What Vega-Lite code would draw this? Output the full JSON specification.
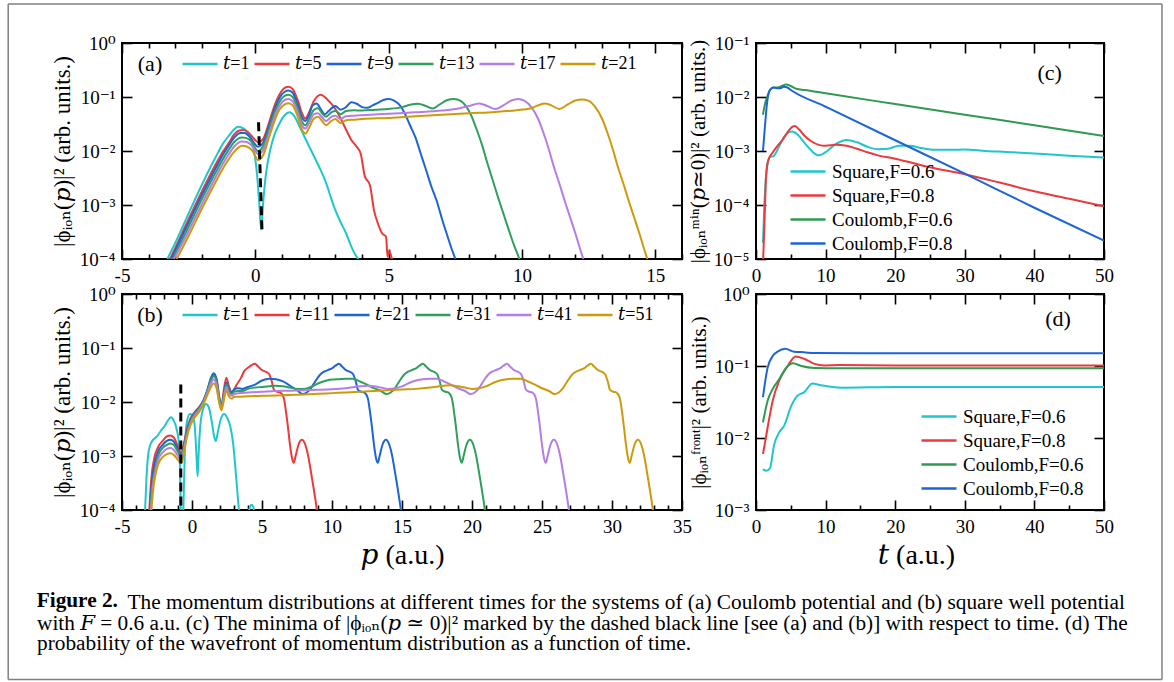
{
"$schema": "https://vega.github.io/schema/vega-lite/v6.json",
"background": "white",
"padding": {"left": 6, "top": 2, "right": 0, "bottom": 0},
"title": {"text": "Figure 2.", "orient": "bottom", "anchor": "start", "fontSize": 21.3, "fontWeight": "bold", "font": "Liberation Serif, DejaVu Serif", "color": "black", "dx": 30, "offset": -130, "baseline": "top"},
"datasets": {
"a": [
{"s":"t=1","p":-3.3,"v":1e-4},{"s":"t=1","p":-3.0,"v":2.0e-4},{"s":"t=1","p":-2.5,"v":7e-4},{"s":"t=1","p":-2.0,"v":2.4e-3},{"s":"t=1","p":-1.5,"v":7.5e-3},{"s":"t=1","p":-1.2,"v":1.4e-2},{"s":"t=1","p":-1.0,"v":1.9e-2},{"s":"t=1","p":-0.8,"v":2.5e-2},{"s":"t=1","p":-0.65,"v":2.8e-2},{"s":"t=1","p":-0.5,"v":2.7e-2},{"s":"t=1","p":-0.3,"v":2.2e-2},{"s":"t=1","p":-0.1,"v":1.3e-2},{"s":"t=1","p":0.0,"v":7e-3},{"s":"t=1","p":0.08,"v":3e-3},{"s":"t=1","p":0.15,"v":1.0e-3},{"s":"t=1","p":0.22,"v":3.5e-4},{"s":"t=1","p":0.3,"v":1.2e-3},{"s":"t=1","p":0.4,"v":3.8e-3},{"s":"t=1","p":0.55,"v":1.0e-2},{"s":"t=1","p":0.7,"v":1.9e-2},{"s":"t=1","p":0.9,"v":3.2e-2},{"s":"t=1","p":1.1,"v":4.6e-2},{"s":"t=1","p":1.28,"v":5.2e-2},{"s":"t=1","p":1.45,"v":4.5e-2},{"s":"t=1","p":1.65,"v":2.9e-2},{"s":"t=1","p":1.9,"v":1.6e-2},{"s":"t=1","p":2.15,"v":9e-3},{"s":"t=1","p":2.4,"v":5e-3},{"s":"t=1","p":2.65,"v":2.6e-3},{"s":"t=1","p":2.85,"v":1.3e-3},{"s":"t=1","p":3.0,"v":8e-4},{"s":"t=1","p":3.2,"v":4.8e-4},{"s":"t=1","p":3.4,"v":3e-4},{"s":"t=1","p":3.6,"v":1.7e-4},{"s":"t=1","p":3.75,"v":1.2e-4},{"s":"t=1","p":3.85,"v":1e-4},{"s":"t=1","p":3.95,"v":8e-5},
{"s":"t=5","p":-3.2,"v":1e-4},{"s":"t=5","p":-3.0,"v":1.6e-4},{"s":"t=5","p":-2.5,"v":5.5e-4},{"s":"t=5","p":-2.0,"v":1.8e-3},{"s":"t=5","p":-1.5,"v":5.5e-3},{"s":"t=5","p":-1.2,"v":1.0e-2},{"s":"t=5","p":-1.0,"v":1.4e-2},{"s":"t=5","p":-0.8,"v":2.0e-2},{"s":"t=5","p":-0.6,"v":2.4e-2},{"s":"t=5","p":-0.45,"v":2.45e-2},{"s":"t=5","p":-0.3,"v":2.3e-2},{"s":"t=5","p":-0.1,"v":1.8e-2},{"s":"t=5","p":0.1,"v":1.45e-2},{"s":"t=5","p":0.3,"v":1.7e-2},{"s":"t=5","p":0.5,"v":3.2e-2},{"s":"t=5","p":0.7,"v":6.5e-2},{"s":"t=5","p":0.9,"v":1.1e-1},{"s":"t=5","p":1.1,"v":1.48e-1},{"s":"t=5","p":1.25,"v":1.55e-1},{"s":"t=5","p":1.4,"v":1.4e-1},{"s":"t=5","p":1.6,"v":8.5e-2},{"s":"t=5","p":1.75,"v":5.0e-2},{"s":"t=5","p":1.88,"v":4.0e-2},{"s":"t=5","p":2.0,"v":5.0e-2},{"s":"t=5","p":2.2,"v":8.5e-2},{"s":"t=5","p":2.45,"v":1.1e-1},{"s":"t=5","p":2.7,"v":9.0e-2},{"s":"t=5","p":3.0,"v":6.0e-2},{"s":"t=5","p":3.2,"v":4.0e-2},{"s":"t=5","p":3.4,"v":2.5e-2},{"s":"t=5","p":3.6,"v":1.6e-2},{"s":"t=5","p":3.8,"v":1.2e-2},{"s":"t=5","p":3.95,"v":9.0e-3},{"s":"t=5","p":4.1,"v":3.5e-3},{"s":"t=5","p":4.3,"v":2.3e-3},{"s":"t=5","p":4.45,"v":8.0e-4},{"s":"t=5","p":4.6,"v":4.5e-4},{"s":"t=5","p":4.75,"v":3.0e-4},{"s":"t=5","p":4.9,"v":2.6e-4},{"s":"t=5","p":4.96,"v":1.1e-4},{"s":"t=5","p":5.02,"v":1.4e-4},{"s":"t=5","p":5.12,"v":1e-4},{"s":"t=5","p":5.2,"v":6e-5},
{"s":"t=9","p":-3.15,"v":1e-4},{"s":"t=9","p":-3.0,"v":1.45e-4},{"s":"t=9","p":-2.5,"v":4.8e-4},{"s":"t=9","p":-2.0,"v":1.55e-3},{"s":"t=9","p":-1.5,"v":4.7e-3},{"s":"t=9","p":-1.2,"v":8.8e-3},{"s":"t=9","p":-1.0,"v":1.25e-2},{"s":"t=9","p":-0.8,"v":1.75e-2},{"s":"t=9","p":-0.55,"v":2.15e-2},{"s":"t=9","p":-0.4,"v":2.15e-2},{"s":"t=9","p":-0.2,"v":1.8e-2},{"s":"t=9","p":0.1,"v":1.2e-2},{"s":"t=9","p":0.3,"v":1.45e-2},{"s":"t=9","p":0.5,"v":2.8e-2},{"s":"t=9","p":0.7,"v":5.6e-2},{"s":"t=9","p":0.9,"v":9.5e-2},{"s":"t=9","p":1.1,"v":1.25e-1},{"s":"t=9","p":1.25,"v":1.32e-1},{"s":"t=9","p":1.4,"v":1.2e-1},{"s":"t=9","p":1.6,"v":7.0e-2},{"s":"t=9","p":1.75,"v":4.2e-2},{"s":"t=9","p":1.87,"v":3.6e-2},{"s":"t=9","p":2.0,"v":4.5e-2},{"s":"t=9","p":2.15,"v":7.0e-2},{"s":"t=9","p":2.3,"v":7.6e-2},{"s":"t=9","p":2.45,"v":6.0e-2},{"s":"t=9","p":2.6,"v":4.8e-2},{"s":"t=9","p":2.75,"v":5.5e-2},{"s":"t=9","p":3.0,"v":6.8e-2},{"s":"t=9","p":3.2,"v":5.8e-2},{"s":"t=9","p":3.4,"v":6.5e-2},{"s":"t=9","p":3.6,"v":8.0e-2},{"s":"t=9","p":3.8,"v":7.5e-2},{"s":"t=9","p":4.0,"v":6.5e-2},{"s":"t=9","p":4.2,"v":6.3e-2},{"s":"t=9","p":4.4,"v":7.0e-2},{"s":"t=9","p":4.6,"v":7.8e-2},{"s":"t=9","p":4.8,"v":8.8e-2},{"s":"t=9","p":5.0,"v":9.2e-2},{"s":"t=9","p":5.2,"v":8.6e-2},{"s":"t=9","p":5.4,"v":7.2e-2},{"s":"t=9","p":5.6,"v":5.0e-2},{"s":"t=9","p":5.8,"v":3.0e-2},{"s":"t=9","p":6.0,"v":1.8e-2},{"s":"t=9","p":6.2,"v":9e-3},{"s":"t=9","p":6.4,"v":4.5e-3},{"s":"t=9","p":6.6,"v":2.2e-3},{"s":"t=9","p":6.8,"v":1.2e-3},{"s":"t=9","p":7.0,"v":5.5e-4},{"s":"t=9","p":7.2,"v":2.7e-4},{"s":"t=9","p":7.35,"v":1.6e-4},{"s":"t=9","p":7.5,"v":1e-4},{"s":"t=9","p":7.6,"v":7e-5},
{"s":"t=13","p":-3.1,"v":1e-4},{"s":"t=13","p":-3.0,"v":1.25e-4},{"s":"t=13","p":-2.5,"v":4.0e-4},{"s":"t=13","p":-2.0,"v":1.3e-3},{"s":"t=13","p":-1.5,"v":3.9e-3},{"s":"t=13","p":-1.2,"v":7.3e-3},{"s":"t=13","p":-1.0,"v":1.05e-2},{"s":"t=13","p":-0.8,"v":1.45e-2},{"s":"t=13","p":-0.5,"v":1.78e-2},{"s":"t=13","p":-0.35,"v":1.75e-2},{"s":"t=13","p":-0.15,"v":1.5e-2},{"s":"t=13","p":0.1,"v":1.0e-2},{"s":"t=13","p":0.3,"v":1.25e-2},{"s":"t=13","p":0.5,"v":2.4e-2},{"s":"t=13","p":0.7,"v":4.8e-2},{"s":"t=13","p":0.9,"v":8.0e-2},{"s":"t=13","p":1.1,"v":1.05e-1},{"s":"t=13","p":1.25,"v":1.1e-1},{"s":"t=13","p":1.4,"v":1.0e-1},{"s":"t=13","p":1.6,"v":6.0e-2},{"s":"t=13","p":1.75,"v":3.5e-2},{"s":"t=13","p":1.88,"v":3.0e-2},{"s":"t=13","p":2.0,"v":3.8e-2},{"s":"t=13","p":2.2,"v":5.8e-2},{"s":"t=13","p":2.35,"v":6.2e-2},{"s":"t=13","p":2.5,"v":5.0e-2},{"s":"t=13","p":2.65,"v":4.3e-2},{"s":"t=13","p":2.85,"v":5.2e-2},{"s":"t=13","p":3.0,"v":5.5e-2},{"s":"t=13","p":3.2,"v":4.8e-2},{"s":"t=13","p":3.4,"v":5.5e-2},{"s":"t=13","p":3.7,"v":5.7e-2},{"s":"t=13","p":4.0,"v":5.6e-2},{"s":"t=13","p":4.5,"v":5.8e-2},{"s":"t=13","p":5.0,"v":6.0e-2},{"s":"t=13","p":5.5,"v":6.5e-2},{"s":"t=13","p":5.8,"v":7.2e-2},{"s":"t=13","p":6.1,"v":7.5e-2},{"s":"t=13","p":6.4,"v":6.8e-2},{"s":"t=13","p":6.65,"v":6.1e-2},{"s":"t=13","p":6.9,"v":7.2e-2},{"s":"t=13","p":7.2,"v":8.8e-2},{"s":"t=13","p":7.45,"v":9.2e-2},{"s":"t=13","p":7.7,"v":8.5e-2},{"s":"t=13","p":7.9,"v":6.8e-2},{"s":"t=13","p":8.1,"v":4.5e-2},{"s":"t=13","p":8.3,"v":2.5e-2},{"s":"t=13","p":8.5,"v":1.3e-2},{"s":"t=13","p":8.7,"v":6e-3},{"s":"t=13","p":8.9,"v":2.9e-3},{"s":"t=13","p":9.1,"v":1.4e-3},{"s":"t=13","p":9.3,"v":7e-4},{"s":"t=13","p":9.5,"v":3.5e-4},{"s":"t=13","p":9.7,"v":1.8e-4},{"s":"t=13","p":9.9,"v":1e-4},{"s":"t=13","p":10.0,"v":7e-5},
{"s":"t=17","p":-3.05,"v":1e-4},{"s":"t=17","p":-2.5,"v":3.3e-4},{"s":"t=17","p":-2.0,"v":1.05e-3},{"s":"t=17","p":-1.5,"v":3.2e-3},{"s":"t=17","p":-1.2,"v":6.0e-3},{"s":"t=17","p":-1.0,"v":8.6e-3},{"s":"t=17","p":-0.8,"v":1.2e-2},{"s":"t=17","p":-0.5,"v":1.5e-2},{"s":"t=17","p":-0.3,"v":1.45e-2},{"s":"t=17","p":-0.1,"v":1.2e-2},{"s":"t=17","p":0.1,"v":8.8e-3},{"s":"t=17","p":0.3,"v":1.05e-2},{"s":"t=17","p":0.5,"v":2.0e-2},{"s":"t=17","p":0.7,"v":4.0e-2},{"s":"t=17","p":0.9,"v":6.8e-2},{"s":"t=17","p":1.1,"v":8.8e-2},{"s":"t=17","p":1.25,"v":9.2e-2},{"s":"t=17","p":1.4,"v":8.3e-2},{"s":"t=17","p":1.6,"v":5.0e-2},{"s":"t=17","p":1.75,"v":3.0e-2},{"s":"t=17","p":1.88,"v":2.6e-2},{"s":"t=17","p":2.0,"v":3.2e-2},{"s":"t=17","p":2.2,"v":4.8e-2},{"s":"t=17","p":2.35,"v":5.0e-2},{"s":"t=17","p":2.5,"v":4.2e-2},{"s":"t=17","p":2.65,"v":3.6e-2},{"s":"t=17","p":2.85,"v":4.3e-2},{"s":"t=17","p":3.0,"v":4.5e-2},{"s":"t=17","p":3.2,"v":3.9e-2},{"s":"t=17","p":3.4,"v":4.4e-2},{"s":"t=17","p":3.7,"v":4.5e-2},{"s":"t=17","p":4.0,"v":4.6e-2},{"s":"t=17","p":5.0,"v":4.9e-2},{"s":"t=17","p":6.0,"v":5.2e-2},{"s":"t=17","p":7.0,"v":5.6e-2},{"s":"t=17","p":7.5,"v":6.0e-2},{"s":"t=17","p":8.0,"v":6.8e-2},{"s":"t=17","p":8.4,"v":7.6e-2},{"s":"t=17","p":8.7,"v":6.8e-2},{"s":"t=17","p":9.0,"v":6.0e-2},{"s":"t=17","p":9.3,"v":7.0e-2},{"s":"t=17","p":9.6,"v":8.6e-2},{"s":"t=17","p":9.85,"v":9.2e-2},{"s":"t=17","p":10.1,"v":8.5e-2},{"s":"t=17","p":10.35,"v":6.5e-2},{"s":"t=17","p":10.6,"v":4.0e-2},{"s":"t=17","p":10.8,"v":2.2e-2},{"s":"t=17","p":11.0,"v":1.1e-2},{"s":"t=17","p":11.2,"v":5.0e-3},{"s":"t=17","p":11.4,"v":2.5e-3},{"s":"t=17","p":11.6,"v":1.2e-3},{"s":"t=17","p":11.8,"v":6e-4},{"s":"t=17","p":12.0,"v":3e-4},{"s":"t=17","p":12.15,"v":1.7e-4},{"s":"t=17","p":12.3,"v":1e-4},{"s":"t=17","p":12.4,"v":7e-5},
{"s":"t=21","p":-2.95,"v":1e-4},{"s":"t=21","p":-2.5,"v":2.7e-4},{"s":"t=21","p":-2.0,"v":8.6e-4},{"s":"t=21","p":-1.5,"v":2.6e-3},{"s":"t=21","p":-1.2,"v":4.9e-3},{"s":"t=21","p":-1.0,"v":7.0e-3},{"s":"t=21","p":-0.8,"v":9.6e-3},{"s":"t=21","p":-0.5,"v":1.25e-2},{"s":"t=21","p":-0.3,"v":1.2e-2},{"s":"t=21","p":-0.1,"v":1.0e-2},{"s":"t=21","p":0.1,"v":6.8e-3},{"s":"t=21","p":0.3,"v":8.5e-3},{"s":"t=21","p":0.5,"v":1.7e-2},{"s":"t=21","p":0.7,"v":3.4e-2},{"s":"t=21","p":0.9,"v":5.8e-2},{"s":"t=21","p":1.1,"v":7.3e-2},{"s":"t=21","p":1.25,"v":7.7e-2},{"s":"t=21","p":1.4,"v":7.0e-2},{"s":"t=21","p":1.6,"v":4.2e-2},{"s":"t=21","p":1.75,"v":2.5e-2},{"s":"t=21","p":1.88,"v":2.1e-2},{"s":"t=21","p":2.0,"v":2.6e-2},{"s":"t=21","p":2.2,"v":4.0e-2},{"s":"t=21","p":2.35,"v":4.3e-2},{"s":"t=21","p":2.5,"v":3.6e-2},{"s":"t=21","p":2.65,"v":3.0e-2},{"s":"t=21","p":2.85,"v":3.6e-2},{"s":"t=21","p":3.0,"v":3.9e-2},{"s":"t=21","p":3.2,"v":3.3e-2},{"s":"t=21","p":3.4,"v":3.7e-2},{"s":"t=21","p":3.7,"v":3.8e-2},{"s":"t=21","p":4.0,"v":3.9e-2},{"s":"t=21","p":5.0,"v":4.1e-2},{"s":"t=21","p":6.0,"v":4.4e-2},{"s":"t=21","p":7.0,"v":4.7e-2},{"s":"t=21","p":8.0,"v":5.0e-2},{"s":"t=21","p":9.0,"v":5.3e-2},{"s":"t=21","p":9.8,"v":5.7e-2},{"s":"t=21","p":10.3,"v":6.1e-2},{"s":"t=21","p":10.6,"v":7.0e-2},{"s":"t=21","p":10.85,"v":7.6e-2},{"s":"t=21","p":11.1,"v":7.0e-2},{"s":"t=21","p":11.4,"v":6.0e-2},{"s":"t=21","p":11.7,"v":7.2e-2},{"s":"t=21","p":12.0,"v":8.6e-2},{"s":"t=21","p":12.25,"v":9.0e-2},{"s":"t=21","p":12.5,"v":8.5e-2},{"s":"t=21","p":12.75,"v":6.5e-2},{"s":"t=21","p":13.0,"v":4.0e-2},{"s":"t=21","p":13.2,"v":2.2e-2},{"s":"t=21","p":13.4,"v":1.1e-2},{"s":"t=21","p":13.6,"v":5e-3},{"s":"t=21","p":13.8,"v":2.5e-3},{"s":"t=21","p":14.0,"v":1.2e-3},{"s":"t=21","p":14.2,"v":6e-4},{"s":"t=21","p":14.4,"v":3e-4},{"s":"t=21","p":14.55,"v":1.7e-4},{"s":"t=21","p":14.7,"v":1e-4},{"s":"t=21","p":14.8,"v":7e-5}
],
"dashA": [{"p":0.12,"v":0.034},{"p":0.25,"v":0.00033}],
"dashB": [{"p":-0.8,"v":0.021},{"p":-0.8,"v":0.00009}],
"b": [
{"s":"t=1","p":-3.35,"v":1e-4},{"s":"t=1","p":-3.25,"v":4e-4},{"s":"t=1","p":-3.1,"v":1.2e-3},{"s":"t=1","p":-2.9,"v":1.8e-3},{"s":"t=1","p":-2.5,"v":2.3e-3},{"s":"t=1","p":-2.2,"v":3.0e-3},{"s":"t=1","p":-1.95,"v":3.6e-3},{"s":"t=1","p":-1.7,"v":4.6e-3},{"s":"t=1","p":-1.5,"v":5.2e-3},{"s":"t=1","p":-1.3,"v":4.5e-3},{"s":"t=1","p":-1.1,"v":3.2e-3},{"s":"t=1","p":-0.95,"v":1.8e-3},{"s":"t=1","p":-0.85,"v":5e-4},{"s":"t=1","p":-0.8,"v":1e-4},{"s":"t=1","p":-0.72,"v":3e-5},{"s":"t=1","p":-0.62,"v":1e-4},{"s":"t=1","p":-0.5,"v":1.5e-3},{"s":"t=1","p":-0.35,"v":4.5e-3},{"s":"t=1","p":-0.15,"v":6e-3},{"s":"t=1","p":0.05,"v":5.5e-3},{"s":"t=1","p":0.2,"v":3.5e-3},{"s":"t=1","p":0.32,"v":1e-3},{"s":"t=1","p":0.4,"v":4.2e-4},{"s":"t=1","p":0.48,"v":1.2e-3},{"s":"t=1","p":0.6,"v":3.8e-3},{"s":"t=1","p":0.8,"v":7.5e-3},{"s":"t=1","p":1.0,"v":9.2e-3},{"s":"t=1","p":1.2,"v":8e-3},{"s":"t=1","p":1.4,"v":4.5e-3},{"s":"t=1","p":1.6,"v":2.2e-3},{"s":"t=1","p":1.7,"v":1.9e-3},{"s":"t=1","p":1.85,"v":2.8e-3},{"s":"t=1","p":2.05,"v":4.8e-3},{"s":"t=1","p":2.3,"v":6e-3},{"s":"t=1","p":2.5,"v":5.2e-3},{"s":"t=1","p":2.75,"v":3.4e-3},{"s":"t=1","p":2.95,"v":1.6e-3},{"s":"t=1","p":3.1,"v":6e-4},{"s":"t=1","p":3.25,"v":2e-4},{"s":"t=1","p":3.35,"v":1e-4},{"s":"t=1","p":3.45,"v":4e-5},{"s":"t=1","p":3.95,"v":5e-5},{"s":"t=1","p":4.1,"v":1.05e-4},{"s":"t=1","p":4.25,"v":1.25e-4},{"s":"t=1","p":4.4,"v":1.1e-4},{"s":"t=1","p":4.5,"v":5e-5},
{"s":"t=11","p":-3.05,"v":1e-4},{"s":"t=11","p":-2.9,"v":4e-4},{"s":"t=11","p":-2.7,"v":9e-4},{"s":"t=11","p":-2.4,"v":1.5e-3},{"s":"t=11","p":-2.1,"v":1.9e-3},{"s":"t=11","p":-1.8,"v":2.3e-3},{"s":"t=11","p":-1.55,"v":2.4e-3},{"s":"t=11","p":-1.3,"v":2.2e-3},{"s":"t=11","p":-1.05,"v":1.6e-3},{"s":"t=11","p":-0.85,"v":1.2e-3},{"s":"t=11","p":-0.75,"v":1.15e-3},{"s":"t=11","p":-0.6,"v":1.6e-3},{"s":"t=11","p":-0.4,"v":2.8e-3},{"s":"t=11","p":-0.1,"v":5e-3},{"s":"t=11","p":0.2,"v":6.5e-3},{"s":"t=11","p":0.5,"v":8e-3},{"s":"t=11","p":0.8,"v":1.05e-2},{"s":"t=11","p":1.1,"v":1.6e-2},{"s":"t=11","p":1.35,"v":2.6e-2},{"s":"t=11","p":1.55,"v":3.2e-2},{"s":"t=11","p":1.75,"v":2.6e-2},{"s":"t=11","p":1.95,"v":1.2e-2},{"s":"t=11","p":2.1,"v":8e-3},{"s":"t=11","p":2.25,"v":1.5e-2},{"s":"t=11","p":2.45,"v":2.8e-2},{"s":"t=11","p":2.65,"v":1.9e-2},{"s":"t=11","p":2.85,"v":1.5e-2},{"s":"t=11","p":3.0,"v":1.7e-2},{"s":"t=11","p":3.2,"v":2.1e-2},{"s":"t=11","p":3.5,"v":2.8e-2},{"s":"t=11","p":3.75,"v":3.8e-2},{"s":"t=11","p":4.0,"v":4.3e-2},{"s":"t=11","p":4.25,"v":4.8e-2},{"s":"t=11","p":4.5,"v":5.1e-2},{"s":"t=11","p":4.7,"v":4.6e-2},{"s":"t=11","p":5.0,"v":3.9e-2},{"s":"t=11","p":5.3,"v":3.6e-2},{"s":"t=11","p":5.5,"v":3.3e-2},{"s":"t=11","p":5.7,"v":2.4e-2},{"s":"t=11","p":5.85,"v":1.7e-2},{"s":"t=11","p":6.1,"v":1.55e-2},{"s":"t=11","p":6.3,"v":1.5e-2},{"s":"t=11","p":6.55,"v":1.2e-2},{"s":"t=11","p":6.7,"v":7e-3},{"s":"t=11","p":6.85,"v":3.5e-3},{"s":"t=11","p":7.0,"v":1.6e-3},{"s":"t=11","p":7.15,"v":9e-4},{"s":"t=11","p":7.27,"v":7.5e-4},{"s":"t=11","p":7.4,"v":1.0e-3},{"s":"t=11","p":7.6,"v":1.6e-3},{"s":"t=11","p":7.85,"v":2.0e-3},{"s":"t=11","p":8.1,"v":1.6e-3},{"s":"t=11","p":8.3,"v":1.0e-3},{"s":"t=11","p":8.45,"v":6e-4},{"s":"t=11","p":8.6,"v":3.5e-4},{"s":"t=11","p":8.75,"v":2e-4},{"s":"t=11","p":8.92,"v":1e-4},{"s":"t=11","p":9.05,"v":5e-5},
{"s":"t=21","p":-3.0,"v":1e-4},{"s":"t=21","p":-2.85,"v":3.5e-4},{"s":"t=21","p":-2.65,"v":7.5e-4},{"s":"t=21","p":-2.4,"v":1.25e-3},{"s":"t=21","p":-2.1,"v":1.6e-3},{"s":"t=21","p":-1.8,"v":1.9e-3},{"s":"t=21","p":-1.55,"v":2.0e-3},{"s":"t=21","p":-1.3,"v":1.85e-3},{"s":"t=21","p":-1.05,"v":1.4e-3},{"s":"t=21","p":-0.85,"v":1.1e-3},{"s":"t=21","p":-0.75,"v":1.05e-3},{"s":"t=21","p":-0.6,"v":1.45e-3},{"s":"t=21","p":-0.4,"v":2.6e-3},{"s":"t=21","p":-0.1,"v":4.7e-3},{"s":"t=21","p":0.2,"v":6.3e-3},{"s":"t=21","p":0.5,"v":7.8e-3},{"s":"t=21","p":0.8,"v":1.05e-2},{"s":"t=21","p":1.1,"v":1.7e-2},{"s":"t=21","p":1.35,"v":2.8e-2},{"s":"t=21","p":1.55,"v":3.4e-2},{"s":"t=21","p":1.75,"v":2.7e-2},{"s":"t=21","p":1.95,"v":1.2e-2},{"s":"t=21","p":2.1,"v":8e-3},{"s":"t=21","p":2.25,"v":1.3e-2},{"s":"t=21","p":2.45,"v":2.3e-2},{"s":"t=21","p":2.65,"v":1.7e-2},{"s":"t=21","p":2.85,"v":1.5e-2},{"s":"t=21","p":3.0,"v":1.7e-2},{"s":"t=21","p":3.3,"v":1.8e-2},{"s":"t=21","p":3.6,"v":1.75e-2},{"s":"t=21","p":4.0,"v":1.9e-2},{"s":"t=21","p":4.5,"v":2.1e-2},{"s":"t=21","p":5.0,"v":2.5e-2},{"s":"t=21","p":5.5,"v":2.7e-2},{"s":"t=21","p":6.0,"v":2.65e-2},{"s":"t=21","p":6.5,"v":2.4e-2},{"s":"t=21","p":7.0,"v":2.0e-2},{"s":"t=21","p":7.5,"v":1.65e-2},{"s":"t=21","p":7.9,"v":1.4e-2},{"s":"t=21","p":8.2,"v":1.5e-2},{"s":"t=21","p":8.5,"v":1.8e-2},{"s":"t=21","p":8.8,"v":2.4e-2},{"s":"t=21","p":9.1,"v":3.1e-2},{"s":"t=21","p":9.4,"v":3.6e-2},{"s":"t=21","p":9.7,"v":3.9e-2},{"s":"t=21","p":10.0,"v":4.2e-2},{"s":"t=21","p":10.25,"v":4.7e-2},{"s":"t=21","p":10.5,"v":5.1e-2},{"s":"t=21","p":10.7,"v":4.6e-2},{"s":"t=21","p":11.0,"v":3.9e-2},{"s":"t=21","p":11.3,"v":3.6e-2},{"s":"t=21","p":11.5,"v":3.3e-2},{"s":"t=21","p":11.7,"v":2.4e-2},{"s":"t=21","p":11.85,"v":1.7e-2},{"s":"t=21","p":12.1,"v":1.55e-2},{"s":"t=21","p":12.3,"v":1.5e-2},{"s":"t=21","p":12.55,"v":1.2e-2},{"s":"t=21","p":12.7,"v":7e-3},{"s":"t=21","p":12.85,"v":3.5e-3},{"s":"t=21","p":13.0,"v":1.6e-3},{"s":"t=21","p":13.15,"v":9e-4},{"s":"t=21","p":13.27,"v":7.5e-4},{"s":"t=21","p":13.4,"v":1.0e-3},{"s":"t=21","p":13.6,"v":1.6e-3},{"s":"t=21","p":13.85,"v":2.0e-3},{"s":"t=21","p":14.1,"v":1.6e-3},{"s":"t=21","p":14.3,"v":1.0e-3},{"s":"t=21","p":14.45,"v":6e-4},{"s":"t=21","p":14.6,"v":3.5e-4},{"s":"t=21","p":14.75,"v":2e-4},{"s":"t=21","p":14.92,"v":1e-4},{"s":"t=21","p":15.05,"v":5e-5},
{"s":"t=31","p":-2.97,"v":1e-4},{"s":"t=31","p":-2.82,"v":3e-4},{"s":"t=31","p":-2.6,"v":6.5e-4},{"s":"t=31","p":-2.4,"v":1.05e-3},{"s":"t=31","p":-2.1,"v":1.4e-3},{"s":"t=31","p":-1.8,"v":1.6e-3},{"s":"t=31","p":-1.55,"v":1.7e-3},{"s":"t=31","p":-1.3,"v":1.6e-3},{"s":"t=31","p":-1.05,"v":1.25e-3},{"s":"t=31","p":-0.85,"v":1e-3},{"s":"t=31","p":-0.75,"v":9.5e-4},{"s":"t=31","p":-0.6,"v":1.35e-3},{"s":"t=31","p":-0.4,"v":2.4e-3},{"s":"t=31","p":-0.1,"v":4.4e-3},{"s":"t=31","p":0.2,"v":6e-3},{"s":"t=31","p":0.5,"v":7.5e-3},{"s":"t=31","p":0.8,"v":1.0e-2},{"s":"t=31","p":1.1,"v":1.6e-2},{"s":"t=31","p":1.35,"v":2.5e-2},{"s":"t=31","p":1.55,"v":3.0e-2},{"s":"t=31","p":1.75,"v":2.4e-2},{"s":"t=31","p":1.95,"v":1.1e-2},{"s":"t=31","p":2.1,"v":7.8e-3},{"s":"t=31","p":2.25,"v":1.2e-2},{"s":"t=31","p":2.45,"v":2.1e-2},{"s":"t=31","p":2.65,"v":1.55e-2},{"s":"t=31","p":2.85,"v":1.4e-2},{"s":"t=31","p":3.0,"v":1.55e-2},{"s":"t=31","p":3.3,"v":1.6e-2},{"s":"t=31","p":3.6,"v":1.6e-2},{"s":"t=31","p":4.0,"v":1.75e-2},{"s":"t=31","p":4.5,"v":1.85e-2},{"s":"t=31","p":5.0,"v":1.9e-2},{"s":"t=31","p":5.5,"v":1.95e-2},{"s":"t=31","p":6.0,"v":2.0e-2},{"s":"t=31","p":6.5,"v":1.95e-2},{"s":"t=31","p":7.0,"v":1.85e-2},{"s":"t=31","p":7.5,"v":1.75e-2},{"s":"t=31","p":8.0,"v":1.75e-2},{"s":"t=31","p":8.5,"v":1.9e-2},{"s":"t=31","p":9.0,"v":2.2e-2},{"s":"t=31","p":9.5,"v":2.45e-2},{"s":"t=31","p":10.0,"v":2.6e-2},{"s":"t=31","p":10.5,"v":2.65e-2},{"s":"t=31","p":11.0,"v":2.7e-2},{"s":"t=31","p":11.5,"v":2.7e-2},{"s":"t=31","p":12.0,"v":2.4e-2},{"s":"t=31","p":12.5,"v":2.1e-2},{"s":"t=31","p":13.0,"v":1.8e-2},{"s":"t=31","p":13.5,"v":1.6e-2},{"s":"t=31","p":13.9,"v":1.4e-2},{"s":"t=31","p":14.2,"v":1.5e-2},{"s":"t=31","p":14.5,"v":1.8e-2},{"s":"t=31","p":14.8,"v":2.4e-2},{"s":"t=31","p":15.1,"v":3.1e-2},{"s":"t=31","p":15.4,"v":3.6e-2},{"s":"t=31","p":15.7,"v":3.9e-2},{"s":"t=31","p":16.0,"v":4.2e-2},{"s":"t=31","p":16.25,"v":4.7e-2},{"s":"t=31","p":16.5,"v":5.1e-2},{"s":"t=31","p":16.7,"v":4.6e-2},{"s":"t=31","p":17.0,"v":3.9e-2},{"s":"t=31","p":17.3,"v":3.6e-2},{"s":"t=31","p":17.5,"v":3.3e-2},{"s":"t=31","p":17.7,"v":2.4e-2},{"s":"t=31","p":17.85,"v":1.7e-2},{"s":"t=31","p":18.1,"v":1.55e-2},{"s":"t=31","p":18.3,"v":1.5e-2},{"s":"t=31","p":18.55,"v":1.2e-2},{"s":"t=31","p":18.7,"v":7e-3},{"s":"t=31","p":18.85,"v":3.5e-3},{"s":"t=31","p":19.0,"v":1.6e-3},{"s":"t=31","p":19.15,"v":9e-4},{"s":"t=31","p":19.27,"v":7.5e-4},{"s":"t=31","p":19.4,"v":1.0e-3},{"s":"t=31","p":19.6,"v":1.6e-3},{"s":"t=31","p":19.85,"v":2.0e-3},{"s":"t=31","p":20.1,"v":1.6e-3},{"s":"t=31","p":20.3,"v":1.0e-3},{"s":"t=31","p":20.45,"v":6e-4},{"s":"t=31","p":20.6,"v":3.5e-4},{"s":"t=31","p":20.75,"v":2e-4},{"s":"t=31","p":20.92,"v":1e-4},{"s":"t=31","p":21.05,"v":5e-5},
{"s":"t=41","p":-2.94,"v":1e-4},{"s":"t=41","p":-2.8,"v":2.7e-4},{"s":"t=41","p":-2.6,"v":5.5e-4},{"s":"t=41","p":-2.4,"v":8.8e-4},{"s":"t=41","p":-2.1,"v":1.15e-3},{"s":"t=41","p":-1.8,"v":1.35e-3},{"s":"t=41","p":-1.55,"v":1.4e-3},{"s":"t=41","p":-1.3,"v":1.3e-3},{"s":"t=41","p":-1.05,"v":1.05e-3},{"s":"t=41","p":-0.85,"v":8.8e-4},{"s":"t=41","p":-0.75,"v":8.5e-4},{"s":"t=41","p":-0.6,"v":1.2e-3},{"s":"t=41","p":-0.4,"v":2.2e-3},{"s":"t=41","p":-0.1,"v":4.1e-3},{"s":"t=41","p":0.2,"v":5.6e-3},{"s":"t=41","p":0.5,"v":7e-3},{"s":"t=41","p":0.8,"v":9.5e-3},{"s":"t=41","p":1.1,"v":1.5e-2},{"s":"t=41","p":1.35,"v":2.2e-2},{"s":"t=41","p":1.55,"v":2.6e-2},{"s":"t=41","p":1.75,"v":2.1e-2},{"s":"t=41","p":1.95,"v":1.0e-2},{"s":"t=41","p":2.1,"v":7.5e-3},{"s":"t=41","p":2.25,"v":1.1e-2},{"s":"t=41","p":2.45,"v":1.9e-2},{"s":"t=41","p":2.65,"v":1.4e-2},{"s":"t=41","p":2.85,"v":1.3e-2},{"s":"t=41","p":3.0,"v":1.4e-2},{"s":"t=41","p":3.3,"v":1.45e-2},{"s":"t=41","p":4.0,"v":1.5e-2},{"s":"t=41","p":5.0,"v":1.55e-2},{"s":"t=41","p":6.0,"v":1.6e-2},{"s":"t=41","p":7.0,"v":1.62e-2},{"s":"t=41","p":8.0,"v":1.65e-2},{"s":"t=41","p":9.0,"v":1.68e-2},{"s":"t=41","p":10.0,"v":1.72e-2},{"s":"t=41","p":11.0,"v":1.8e-2},{"s":"t=41","p":12.0,"v":1.95e-2},{"s":"t=41","p":12.5,"v":2.0e-2},{"s":"t=41","p":13.0,"v":1.95e-2},{"s":"t=41","p":13.5,"v":1.85e-2},{"s":"t=41","p":14.0,"v":1.75e-2},{"s":"t=41","p":14.5,"v":1.8e-2},{"s":"t=41","p":15.0,"v":1.95e-2},{"s":"t=41","p":15.5,"v":2.25e-2},{"s":"t=41","p":16.0,"v":2.5e-2},{"s":"t=41","p":16.5,"v":2.65e-2},{"s":"t=41","p":17.0,"v":2.7e-2},{"s":"t=41","p":17.5,"v":2.7e-2},{"s":"t=41","p":18.0,"v":2.4e-2},{"s":"t=41","p":18.5,"v":2.1e-2},{"s":"t=41","p":19.0,"v":1.8e-2},{"s":"t=41","p":19.5,"v":1.6e-2},{"s":"t=41","p":19.9,"v":1.4e-2},{"s":"t=41","p":20.2,"v":1.5e-2},{"s":"t=41","p":20.5,"v":1.8e-2},{"s":"t=41","p":20.8,"v":2.4e-2},{"s":"t=41","p":21.1,"v":3.1e-2},{"s":"t=41","p":21.4,"v":3.6e-2},{"s":"t=41","p":21.7,"v":3.9e-2},{"s":"t=41","p":22.0,"v":4.2e-2},{"s":"t=41","p":22.25,"v":4.7e-2},{"s":"t=41","p":22.5,"v":5.1e-2},{"s":"t=41","p":22.7,"v":4.6e-2},{"s":"t=41","p":23.0,"v":3.9e-2},{"s":"t=41","p":23.3,"v":3.6e-2},{"s":"t=41","p":23.5,"v":3.3e-2},{"s":"t=41","p":23.7,"v":2.4e-2},{"s":"t=41","p":23.85,"v":1.7e-2},{"s":"t=41","p":24.1,"v":1.55e-2},{"s":"t=41","p":24.3,"v":1.5e-2},{"s":"t=41","p":24.55,"v":1.2e-2},{"s":"t=41","p":24.7,"v":7e-3},{"s":"t=41","p":24.85,"v":3.5e-3},{"s":"t=41","p":25.0,"v":1.6e-3},{"s":"t=41","p":25.15,"v":9e-4},{"s":"t=41","p":25.27,"v":7.5e-4},{"s":"t=41","p":25.4,"v":1.0e-3},{"s":"t=41","p":25.6,"v":1.6e-3},{"s":"t=41","p":25.85,"v":2.0e-3},{"s":"t=41","p":26.1,"v":1.6e-3},{"s":"t=41","p":26.3,"v":1.0e-3},{"s":"t=41","p":26.45,"v":6e-4},{"s":"t=41","p":26.6,"v":3.5e-4},{"s":"t=41","p":26.75,"v":2e-4},{"s":"t=41","p":26.92,"v":1e-4},{"s":"t=41","p":27.05,"v":5e-5},
{"s":"t=51","p":-2.9,"v":1e-4},{"s":"t=51","p":-2.77,"v":2.4e-4},{"s":"t=51","p":-2.6,"v":4.6e-4},{"s":"t=51","p":-2.4,"v":7.2e-4},{"s":"t=51","p":-2.1,"v":9.5e-4},{"s":"t=51","p":-1.8,"v":1.08e-3},{"s":"t=51","p":-1.55,"v":1.12e-3},{"s":"t=51","p":-1.3,"v":1.05e-3},{"s":"t=51","p":-1.05,"v":8.8e-4},{"s":"t=51","p":-0.85,"v":7.6e-4},{"s":"t=51","p":-0.75,"v":7.4e-4},{"s":"t=51","p":-0.6,"v":1.05e-3},{"s":"t=51","p":-0.4,"v":2.0e-3},{"s":"t=51","p":-0.1,"v":3.8e-3},{"s":"t=51","p":0.2,"v":5.2e-3},{"s":"t=51","p":0.5,"v":6.5e-3},{"s":"t=51","p":0.8,"v":9e-3},{"s":"t=51","p":1.1,"v":1.35e-2},{"s":"t=51","p":1.35,"v":1.9e-2},{"s":"t=51","p":1.55,"v":2.2e-2},{"s":"t=51","p":1.75,"v":1.8e-2},{"s":"t=51","p":1.95,"v":9.5e-3},{"s":"t=51","p":2.1,"v":7e-3},{"s":"t=51","p":2.25,"v":1.0e-2},{"s":"t=51","p":2.45,"v":1.65e-2},{"s":"t=51","p":2.65,"v":1.25e-2},{"s":"t=51","p":2.85,"v":1.15e-2},{"s":"t=51","p":3.0,"v":1.25e-2},{"s":"t=51","p":3.3,"v":1.25e-2},{"s":"t=51","p":4.0,"v":1.28e-2},{"s":"t=51","p":5.0,"v":1.3e-2},{"s":"t=51","p":6.0,"v":1.32e-2},{"s":"t=51","p":7.0,"v":1.35e-2},{"s":"t=51","p":8.0,"v":1.38e-2},{"s":"t=51","p":9.0,"v":1.42e-2},{"s":"t=51","p":10.0,"v":1.46e-2},{"s":"t=51","p":11.0,"v":1.5e-2},{"s":"t=51","p":12.0,"v":1.55e-2},{"s":"t=51","p":13.0,"v":1.6e-2},{"s":"t=51","p":14.0,"v":1.65e-2},{"s":"t=51","p":15.0,"v":1.7e-2},{"s":"t=51","p":16.0,"v":1.75e-2},{"s":"t=51","p":17.0,"v":1.85e-2},{"s":"t=51","p":18.0,"v":2.0e-2},{"s":"t=51","p":18.5,"v":2.05e-2},{"s":"t=51","p":19.0,"v":1.95e-2},{"s":"t=51","p":19.5,"v":1.85e-2},{"s":"t=51","p":20.0,"v":1.75e-2},{"s":"t=51","p":20.5,"v":1.8e-2},{"s":"t=51","p":21.0,"v":1.95e-2},{"s":"t=51","p":21.5,"v":2.25e-2},{"s":"t=51","p":22.0,"v":2.5e-2},{"s":"t=51","p":22.5,"v":2.65e-2},{"s":"t=51","p":23.0,"v":2.7e-2},{"s":"t=51","p":23.5,"v":2.7e-2},{"s":"t=51","p":24.0,"v":2.4e-2},{"s":"t=51","p":24.5,"v":2.1e-2},{"s":"t=51","p":25.0,"v":1.8e-2},{"s":"t=51","p":25.5,"v":1.6e-2},{"s":"t=51","p":25.9,"v":1.4e-2},{"s":"t=51","p":26.2,"v":1.5e-2},{"s":"t=51","p":26.5,"v":1.8e-2},{"s":"t=51","p":26.8,"v":2.4e-2},{"s":"t=51","p":27.1,"v":3.1e-2},{"s":"t=51","p":27.4,"v":3.6e-2},{"s":"t=51","p":27.7,"v":3.9e-2},{"s":"t=51","p":28.0,"v":4.2e-2},{"s":"t=51","p":28.25,"v":4.7e-2},{"s":"t=51","p":28.5,"v":5.1e-2},{"s":"t=51","p":28.7,"v":4.6e-2},{"s":"t=51","p":29.0,"v":3.9e-2},{"s":"t=51","p":29.3,"v":3.6e-2},{"s":"t=51","p":29.5,"v":3.3e-2},{"s":"t=51","p":29.7,"v":2.4e-2},{"s":"t=51","p":29.85,"v":1.7e-2},{"s":"t=51","p":30.1,"v":1.55e-2},{"s":"t=51","p":30.3,"v":1.5e-2},{"s":"t=51","p":30.55,"v":1.2e-2},{"s":"t=51","p":30.7,"v":7e-3},{"s":"t=51","p":30.85,"v":3.5e-3},{"s":"t=51","p":31.0,"v":1.6e-3},{"s":"t=51","p":31.15,"v":9e-4},{"s":"t=51","p":31.27,"v":7.5e-4},{"s":"t=51","p":31.4,"v":1.0e-3},{"s":"t=51","p":31.6,"v":1.6e-3},{"s":"t=51","p":31.85,"v":2.0e-3},{"s":"t=51","p":32.1,"v":1.6e-3},{"s":"t=51","p":32.3,"v":1.0e-3},{"s":"t=51","p":32.45,"v":6e-4},{"s":"t=51","p":32.6,"v":3.5e-4},{"s":"t=51","p":32.75,"v":2e-4},{"s":"t=51","p":32.92,"v":1e-4},{"s":"t=51","p":33.05,"v":5e-5}
],
"c": [
{"s":"Square,F=0.6","t":1.0,"v":2e-5},{"s":"Square,F=0.6","t":1.2,"v":1e-4},{"s":"Square,F=0.6","t":1.4,"v":3e-4},{"s":"Square,F=0.6","t":1.7,"v":6e-4},{"s":"Square,F=0.6","t":2.0,"v":7.8e-4},{"s":"Square,F=0.6","t":2.5,"v":8e-4},{"s":"Square,F=0.6","t":3.0,"v":1.0e-3},{"s":"Square,F=0.6","t":3.5,"v":1.35e-3},{"s":"Square,F=0.6","t":4.0,"v":1.8e-3},{"s":"Square,F=0.6","t":4.7,"v":2.2e-3},{"s":"Square,F=0.6","t":5.2,"v":2.3e-3},{"s":"Square,F=0.6","t":6.0,"v":2.0e-3},{"s":"Square,F=0.6","t":7.0,"v":1.4e-3},{"s":"Square,F=0.6","t":8.0,"v":1.0e-3},{"s":"Square,F=0.6","t":9.0,"v":8.3e-4},{"s":"Square,F=0.6","t":10,"v":9.5e-4},{"s":"Square,F=0.6","t":11.5,"v":1.35e-3},{"s":"Square,F=0.6","t":13,"v":1.6e-3},{"s":"Square,F=0.6","t":14.5,"v":1.45e-3},{"s":"Square,F=0.6","t":16,"v":1.2e-3},{"s":"Square,F=0.6","t":17.5,"v":1.08e-3},{"s":"Square,F=0.6","t":19,"v":1.1e-3},{"s":"Square,F=0.6","t":20.5,"v":1.25e-3},{"s":"Square,F=0.6","t":22,"v":1.25e-3},{"s":"Square,F=0.6","t":24,"v":1.12e-3},{"s":"Square,F=0.6","t":26,"v":1.05e-3},{"s":"Square,F=0.6","t":28,"v":1.05e-3},{"s":"Square,F=0.6","t":30,"v":1.07e-3},{"s":"Square,F=0.6","t":33,"v":1.0e-3},{"s":"Square,F=0.6","t":36,"v":9.6e-4},{"s":"Square,F=0.6","t":40,"v":9e-4},{"s":"Square,F=0.6","t":45,"v":8.2e-4},{"s":"Square,F=0.6","t":50,"v":7.6e-4},
{"s":"Square,F=0.8","t":1.0,"v":8e-6},{"s":"Square,F=0.8","t":1.2,"v":4e-5},{"s":"Square,F=0.8","t":1.4,"v":2.5e-4},{"s":"Square,F=0.8","t":1.6,"v":5.5e-4},{"s":"Square,F=0.8","t":1.9,"v":7.5e-4},{"s":"Square,F=0.8","t":2.3,"v":9e-4},{"s":"Square,F=0.8","t":3.0,"v":1.2e-3},{"s":"Square,F=0.8","t":3.8,"v":1.6e-3},{"s":"Square,F=0.8","t":4.5,"v":2.2e-3},{"s":"Square,F=0.8","t":5.2,"v":2.8e-3},{"s":"Square,F=0.8","t":5.6,"v":2.9e-3},{"s":"Square,F=0.8","t":6.2,"v":2.5e-3},{"s":"Square,F=0.8","t":7.0,"v":1.9e-3},{"s":"Square,F=0.8","t":8.0,"v":1.5e-3},{"s":"Square,F=0.8","t":9.0,"v":1.3e-3},{"s":"Square,F=0.8","t":10,"v":1.25e-3},{"s":"Square,F=0.8","t":11.5,"v":1.3e-3},{"s":"Square,F=0.8","t":13,"v":1.25e-3},{"s":"Square,F=0.8","t":14.5,"v":1.1e-3},{"s":"Square,F=0.8","t":16,"v":9.5e-4},{"s":"Square,F=0.8","t":17.5,"v":8.3e-4},{"s":"Square,F=0.8","t":20,"v":7.2e-4},{"s":"Square,F=0.8","t":22.5,"v":6e-4},{"s":"Square,F=0.8","t":25,"v":5e-4},{"s":"Square,F=0.8","t":30,"v":3.7e-4},{"s":"Square,F=0.8","t":35,"v":2.6e-4},{"s":"Square,F=0.8","t":40,"v":1.8e-4},{"s":"Square,F=0.8","t":45,"v":1.3e-4},{"s":"Square,F=0.8","t":50,"v":9.5e-5},
{"s":"Coulomb,F=0.6","t":1.0,"v":4.7e-3},{"s":"Coulomb,F=0.6","t":1.3,"v":7.5e-3},{"s":"Coulomb,F=0.6","t":1.6,"v":1.0e-2},{"s":"Coulomb,F=0.6","t":2.0,"v":1.35e-2},{"s":"Coulomb,F=0.6","t":2.5,"v":1.5e-2},{"s":"Coulomb,F=0.6","t":3.0,"v":1.5e-2},{"s":"Coulomb,F=0.6","t":3.5,"v":1.55e-2},{"s":"Coulomb,F=0.6","t":4.3,"v":1.7e-2},{"s":"Coulomb,F=0.6","t":5.0,"v":1.6e-2},{"s":"Coulomb,F=0.6","t":5.8,"v":1.42e-2},{"s":"Coulomb,F=0.6","t":7,"v":1.35e-2},{"s":"Coulomb,F=0.6","t":10,"v":1.17e-2},{"s":"Coulomb,F=0.6","t":20,"v":7.4e-3},{"s":"Coulomb,F=0.6","t":30,"v":4.7e-3},{"s":"Coulomb,F=0.6","t":40,"v":3.0e-3},{"s":"Coulomb,F=0.6","t":50,"v":1.9e-3},
{"s":"Coulomb,F=0.8","t":1.0,"v":1.0e-3},{"s":"Coulomb,F=0.8","t":1.3,"v":3e-3},{"s":"Coulomb,F=0.8","t":1.6,"v":8e-3},{"s":"Coulomb,F=0.8","t":2.0,"v":1.35e-2},{"s":"Coulomb,F=0.8","t":2.5,"v":1.5e-2},{"s":"Coulomb,F=0.8","t":3.0,"v":1.45e-2},{"s":"Coulomb,F=0.8","t":3.5,"v":1.45e-2},{"s":"Coulomb,F=0.8","t":4.0,"v":1.55e-2},{"s":"Coulomb,F=0.8","t":4.5,"v":1.5e-2},{"s":"Coulomb,F=0.8","t":5,"v":1.35e-2},{"s":"Coulomb,F=0.8","t":10,"v":6.6e-3},{"s":"Coulomb,F=0.8","t":20,"v":1.58e-3},{"s":"Coulomb,F=0.8","t":30,"v":3.8e-4},{"s":"Coulomb,F=0.8","t":40,"v":8.9e-5},{"s":"Coulomb,F=0.8","t":50,"v":2.2e-5}
],
"d": [
{"s":"Square,F=0.6","t":1.0,"v":3.7e-3},{"s":"Square,F=0.6","t":1.5,"v":3.5e-3},{"s":"Square,F=0.6","t":2.0,"v":3.8e-3},{"s":"Square,F=0.6","t":2.6,"v":8e-3},{"s":"Square,F=0.6","t":3.35,"v":1.2e-2},{"s":"Square,F=0.6","t":4.07,"v":1.5e-2},{"s":"Square,F=0.6","t":5.0,"v":2.7e-2},{"s":"Square,F=0.6","t":6.0,"v":3.9e-2},{"s":"Square,F=0.6","t":6.9,"v":4.3e-2},{"s":"Square,F=0.6","t":8.1,"v":5.7e-2},{"s":"Square,F=0.6","t":9.3,"v":5.4e-2},{"s":"Square,F=0.6","t":12.2,"v":5.0e-2},{"s":"Square,F=0.6","t":20,"v":5.1e-2},{"s":"Square,F=0.6","t":30,"v":5.1e-2},{"s":"Square,F=0.6","t":40,"v":5.1e-2},{"s":"Square,F=0.6","t":50,"v":5.1e-2},
{"s":"Square,F=0.8","t":1.0,"v":6e-3},{"s":"Square,F=0.8","t":1.67,"v":1.4e-2},{"s":"Square,F=0.8","t":2.4,"v":3.3e-2},{"s":"Square,F=0.8","t":3.35,"v":6.3e-2},{"s":"Square,F=0.8","t":4.55,"v":1.0e-1},{"s":"Square,F=0.8","t":5.7,"v":1.35e-1},{"s":"Square,F=0.8","t":6.9,"v":1.26e-1},{"s":"Square,F=0.8","t":8.4,"v":1.07e-1},{"s":"Square,F=0.8","t":9.8,"v":1.02e-1},{"s":"Square,F=0.8","t":12,"v":1.03e-1},{"s":"Square,F=0.8","t":20,"v":1.02e-1},{"s":"Square,F=0.8","t":50,"v":1.02e-1},
{"s":"Coulomb,F=0.6","t":1.0,"v":1.65e-2},{"s":"Coulomb,F=0.6","t":1.67,"v":3.3e-2},{"s":"Coulomb,F=0.6","t":2.4,"v":4.8e-2},{"s":"Coulomb,F=0.6","t":3.35,"v":6.6e-2},{"s":"Coulomb,F=0.6","t":4.3,"v":9.3e-2},{"s":"Coulomb,F=0.6","t":5.3,"v":1.09e-1},{"s":"Coulomb,F=0.6","t":6.5,"v":1.0e-1},{"s":"Coulomb,F=0.6","t":8.4,"v":9.4e-2},{"s":"Coulomb,F=0.6","t":12,"v":9.3e-2},{"s":"Coulomb,F=0.6","t":50,"v":9.3e-2},
{"s":"Coulomb,F=0.8","t":1.0,"v":3.7e-2},{"s":"Coulomb,F=0.8","t":1.67,"v":9.5e-2},{"s":"Coulomb,F=0.8","t":2.4,"v":1.38e-1},{"s":"Coulomb,F=0.8","t":3.1,"v":1.58e-1},{"s":"Coulomb,F=0.8","t":4.2,"v":1.73e-1},{"s":"Coulomb,F=0.8","t":5.5,"v":1.58e-1},{"s":"Coulomb,F=0.8","t":6.9,"v":1.55e-1},{"s":"Coulomb,F=0.8","t":8.4,"v":1.51e-1},{"s":"Coulomb,F=0.8","t":15,"v":1.5e-1},{"s":"Coulomb,F=0.8","t":50,"v":1.5e-1}
]
},
"columns": 2,
"bounds": "flush",
"spacing": {"row": 35, "column": 74},
"resolve": {"scale": {"color": "independent"}, "legend": {"color": "independent"}},
"concat": [
{
"width": 560, "height": 216,
"layer": [
{"data": {"name": "a"},
 "mark": {"type": "line", "strokeWidth": 2, "clip": true, "interpolate": "monotone"},
 "encoding": {
  "x": {"field": "p", "type": "quantitative", "scale": {"domain": [-5, 16], "nice": false, "zero": false},
        "axis": {"orient": "bottom", "values": [-5,-4,-3,-2,-1,0,1,2,3,4,5,6,7,8,9,10,11,12,13,14,15,16], "labelExpr": "datum.value % 5 !== 0 ? '' : datum.value < 0 ? '-' + abs(datum.value) : '' + datum.value", "tickSize": {"condition": {"test": "datum.value % 5 === 0", "value": -10}, "value": -5}, "title": null}},
  "y": {"field": "v", "type": "quantitative", "scale": {"type": "log", "domain": [0.0001, 1], "nice": false},
        "axis": {"orient": "left", "values": [0.0001, 0.001, 0.01, 0.1, 1], "labelExpr": "'10' + (datum.value > 0.5 ? '⁰' : datum.value > 0.05 ? '⁻¹' : datum.value > 0.005 ? '⁻²' : datum.value > 0.0005 ? '⁻³' : datum.value > 0.00005 ? '⁻⁴' : '⁻⁵')", "tickSize": -10, "title": "|ϕᵢₒₙ(𝑝)|² (arb. units.)", "titlePadding": 5}},
  "color": {"field": "s", "type": "nominal",
        "scale": {"domain": ["t=1","t=5","t=9","t=13","t=17","t=21"], "range": ["#1fc6cc","#ea3a3d","#1d64d8","#2f9f5d","#b57de6","#cc9b0c"]},
        "legend": {"title": null, "orient": "none", "legendX": 59, "legendY": 11, "direction": "horizontal", "clipHeight": 20, "columnPadding": 3, "labelOffset": 4, "labelExpr": "'𝑡' + slice(datum.label, 1)", "labelFontSize": 18}}
 }},
{"data": {"values": [{"p": -3.95, "v": 0.41, "txt": "(a)"}]},
 "mark": {"type": "text", "fontSize": 22, "font": "Liberation Serif, DejaVu Serif", "color": "black"},
 "encoding": {
  "x": {"field": "p", "type": "quantitative", "scale": {"domain": [-5, 16], "nice": false, "zero": false}, "axis": {"orient": "top", "values": [-5,-4,-3,-2,-1,0,1,2,3,4,5,6,7,8,9,10,11,12,13,14,15,16], "labels": false, "tickSize": {"condition": {"test": "datum.value % 5 === 0", "value": -10}, "value": -5}, "title": null}},
  "y": {"field": "v", "type": "quantitative", "scale": {"type": "log", "domain": [0.0001, 1], "nice": false}, "axis": {"orient": "right", "values": [0.0001, 0.001, 0.01, 0.1, 1], "labels": false, "tickSize": -10, "title": null}},
  "text": {"field": "txt"}
 }},
{"data": {"name": "dashA"},
 "mark": {"type": "line", "color": "black", "strokeWidth": 3, "strokeDash": [9, 5], "clip": true},
 "encoding": {"x": {"field": "p", "type": "quantitative", "scale": {"domain": [-5, 16], "nice": false, "zero": false}, "axis": null}, "y": {"field": "v", "type": "quantitative", "scale": {"type": "log", "domain": [0.0001, 1], "nice": false}, "axis": null}}},
{"data": {"values": [{"fx": 0.5, "fy": 0.5}]},
 "mark": {"type": "point", "opacity": 0},
 "encoding": {
  "x": {"field": "fx", "type": "quantitative", "scale": {"domain": [0, 1], "range": [-114.3, 1039.5], "nice": false, "zero": false}, "axis": {"orient": "top", "offset": 39.6, "domain": true, "domainColor": "#808080", "domainWidth": 1.5, "ticks": false, "labels": false, "grid": false, "title": null}},
  "y": {"field": "fy", "type": "quantitative", "scale": {"domain": [0, 1], "range": [635.9, -39.6], "nice": false, "zero": false}, "axis": {"orient": "left", "offset": 114.3, "domain": true, "domainColor": "#808080", "domainWidth": 1.5, "ticks": false, "labels": false, "grid": false, "title": null}}
 }},
{"data": {"values": [{"fx": 0.5, "fy": 0.5}]},
 "mark": {"type": "point", "opacity": 0},
 "encoding": {
  "x": {"field": "fx", "type": "quantitative", "scale": {"domain": [0, 1], "range": [-114.3, 1039.5], "nice": false, "zero": false}, "axis": {"orient": "bottom", "offset": 419.9, "domain": true, "domainColor": "#808080", "domainWidth": 1.5, "ticks": false, "labels": false, "grid": false, "title": null}},
  "y": {"field": "fy", "type": "quantitative", "scale": {"domain": [0, 1], "range": [635.9, -39.6], "nice": false, "zero": false}, "axis": {"orient": "right", "offset": 479.5, "domain": true, "domainColor": "#808080", "domainWidth": 1.5, "ticks": false, "labels": false, "grid": false, "title": null}}
 }}
],
"resolve": {"scale": {"x": "independent", "y": "independent"}, "axis": {"x": "independent", "y": "independent"}}
},
{
"width": 348, "height": 216,
"layer": [
{"data": {"name": "c"},
 "mark": {"type": "line", "strokeWidth": 2, "clip": true, "interpolate": "monotone"},
 "encoding": {
  "x": {"field": "t", "type": "quantitative", "scale": {"domain": [0, 50], "nice": false},
        "axis": {"orient": "bottom", "values": [0,5,10,15,20,25,30,35,40,45,50], "labelExpr": "datum.value % 10 !== 0 ? '' : '' + datum.value", "tickSize": {"condition": {"test": "datum.value % 10 === 0", "value": -10}, "value": -5}, "title": null}},
  "y": {"field": "v", "type": "quantitative", "scale": {"type": "log", "domain": [0.00001, 0.1], "nice": false},
        "axis": {"orient": "left", "values": [0.00001, 0.0001, 0.001, 0.01, 0.1], "labelExpr": "'10' + (datum.value > 0.5 ? '⁰' : datum.value > 0.05 ? '⁻¹' : datum.value > 0.005 ? '⁻²' : datum.value > 0.0005 ? '⁻³' : datum.value > 0.00005 ? '⁻⁴' : '⁻⁵')", "tickSize": -10, "title": "|ϕᵢₒₙᵐⁱⁿ(𝑝≃0)|² (arb. units.)", "titleFontSize": 21, "titlePadding": 5}},
  "color": {"field": "s", "type": "nominal",
        "scale": {"domain": ["Square,F=0.6","Square,F=0.8","Coulomb,F=0.6","Coulomb,F=0.8"], "range": ["#1fc6cc","#ea3a3d","#2f9a4f","#1d64d8"]},
        "legend": {"title": null, "orient": "none", "legendX": 33, "legendY": 119, "direction": "vertical", "clipHeight": 19, "rowPadding": 4, "labelFontSize": 19}}
 }},
{"data": {"values": [{"t": 42.2, "v": 0.028, "txt": "(c)"}]},
 "mark": {"type": "text", "fontSize": 22, "font": "Liberation Serif, DejaVu Serif", "color": "black"},
 "encoding": {
  "x": {"field": "t", "type": "quantitative", "axis": {"orient": "top", "values": [0,5,10,15,20,25,30,35,40,45,50], "labels": false, "tickSize": {"condition": {"test": "datum.value % 10 === 0", "value": -10}, "value": -5}, "title": null}},
  "y": {"field": "v", "type": "quantitative", "axis": {"orient": "right", "values": [0.00001, 0.0001, 0.001, 0.01, 0.1], "labels": false, "tickSize": -10, "title": null}},
  "text": {"field": "txt"}
 }}
],
"resolve": {"axis": {"x": "independent", "y": "independent"}}
},
{
"width": 560, "height": 216,
"layer": [
{"data": {"name": "b"},
 "mark": {"type": "line", "strokeWidth": 2, "clip": true, "interpolate": "monotone"},
 "encoding": {
  "x": {"field": "p", "type": "quantitative", "scale": {"domain": [-5, 35], "nice": false, "zero": false},
        "axis": {"orient": "bottom", "values": [-5,-4,-3,-2,-1,0,1,2,3,4,5,6,7,8,9,10,11,12,13,14,15,16,17,18,19,20,21,22,23,24,25,26,27,28,29,30,31,32,33,34,35], "labelExpr": "datum.value % 5 !== 0 ? '' : datum.value < 0 ? '-' + abs(datum.value) : '' + datum.value", "tickSize": {"condition": {"test": "datum.value % 5 === 0", "value": -10}, "value": -5}, "title": "𝑝 (a.u.)", "titleFontSize": 28, "titlePadding": 0}},
  "y": {"field": "v", "type": "quantitative", "scale": {"type": "log", "domain": [0.0001, 1], "nice": false},
        "axis": {"orient": "left", "values": [0.0001, 0.001, 0.01, 0.1, 1], "labelExpr": "'10' + (datum.value > 0.5 ? '⁰' : datum.value > 0.05 ? '⁻¹' : datum.value > 0.005 ? '⁻²' : datum.value > 0.0005 ? '⁻³' : datum.value > 0.00005 ? '⁻⁴' : '⁻⁵')", "tickSize": -10, "title": "|ϕᵢₒₙ(𝑝)|² (arb. units.)", "titlePadding": 5}},
  "color": {"field": "s", "type": "nominal",
        "scale": {"domain": ["t=1","t=11","t=21","t=31","t=41","t=51"], "range": ["#1fc6cc","#ea3a3d","#1d64d8","#2f9f5d","#b57de6","#cc9b0c"]},
        "legend": {"title": null, "orient": "none", "legendX": 59, "legendY": 11, "direction": "horizontal", "clipHeight": 20, "columnPadding": 3, "labelOffset": 4, "labelExpr": "'𝑡' + slice(datum.label, 1)", "labelFontSize": 18}}
 }},
{"data": {"values": [{"p": -3.0, "v": 0.41, "txt": "(b)"}]},
 "mark": {"type": "text", "fontSize": 22, "font": "Liberation Serif, DejaVu Serif", "color": "black"},
 "encoding": {
  "x": {"field": "p", "type": "quantitative", "axis": {"orient": "top", "values": [-5,-4,-3,-2,-1,0,1,2,3,4,5,6,7,8,9,10,11,12,13,14,15,16,17,18,19,20,21,22,23,24,25,26,27,28,29,30,31,32,33,34,35], "labels": false, "tickSize": {"condition": {"test": "datum.value % 5 === 0", "value": -10}, "value": -5}, "title": null}},
  "y": {"field": "v", "type": "quantitative", "axis": {"orient": "right", "values": [0.0001, 0.001, 0.01, 0.1, 1], "labels": false, "tickSize": -10, "title": null}},
  "text": {"field": "txt"}
 }},
{"data": {"name": "dashB"},
 "mark": {"type": "line", "color": "black", "strokeWidth": 3, "strokeDash": [9, 5], "clip": true},
 "encoding": {"x": {"field": "p", "type": "quantitative", "axis": null}, "y": {"field": "v", "type": "quantitative", "axis": null}}}
],
"resolve": {"axis": {"x": "independent", "y": "independent"}}
},
{
"width": 348, "height": 216,
"layer": [
{"data": {"name": "d"},
 "mark": {"type": "line", "strokeWidth": 2, "clip": true, "interpolate": "monotone"},
 "encoding": {
  "x": {"field": "t", "type": "quantitative", "scale": {"domain": [0, 50], "nice": false},
        "axis": {"orient": "bottom", "values": [0,5,10,15,20,25,30,35,40,45,50], "labelExpr": "datum.value % 10 !== 0 ? '' : '' + datum.value", "tickSize": {"condition": {"test": "datum.value % 10 === 0", "value": -10}, "value": -5}, "title": "𝑡 (a.u.)", "titleFontSize": 28, "titlePadding": 0, "titleX": 160}},
  "y": {"field": "v", "type": "quantitative", "scale": {"type": "log", "domain": [0.001, 1], "nice": false},
        "axis": {"orient": "left", "values": [0.001, 0.01, 0.1, 1], "labelExpr": "'10' + (datum.value > 0.5 ? '⁰' : datum.value > 0.05 ? '⁻¹' : datum.value > 0.005 ? '⁻²' : datum.value > 0.0005 ? '⁻³' : datum.value > 0.00005 ? '⁻⁴' : '⁻⁵')", "tickSize": -10, "title": "|ϕᵢₒₙᶠʳᵒⁿᵗ|² (arb. units.)", "titleFontSize": 21, "titlePadding": 5}},
  "color": {"field": "s", "type": "nominal",
        "scale": {"domain": ["Square,F=0.6","Square,F=0.8","Coulomb,F=0.6","Coulomb,F=0.8"], "range": ["#1fc6cc","#ea3a3d","#2f9a4f","#1d64d8"]},
        "legend": {"title": null, "orient": "none", "legendX": 164, "legendY": 113, "direction": "vertical", "clipHeight": 19, "rowPadding": 4, "labelFontSize": 19}}
 }},
{"data": {"values": [{"t": 43.4, "v": 0.45, "txt": "(d)"}]},
 "mark": {"type": "text", "fontSize": 22, "font": "Liberation Serif, DejaVu Serif", "color": "black"},
 "encoding": {
  "x": {"field": "t", "type": "quantitative", "axis": {"orient": "top", "values": [0,5,10,15,20,25,30,35,40,45,50], "labels": false, "tickSize": {"condition": {"test": "datum.value % 10 === 0", "value": -10}, "value": -5}, "title": null}},
  "y": {"field": "v", "type": "quantitative", "axis": {"orient": "right", "values": [0.001, 0.01, 0.1, 1], "labels": false, "tickSize": -10, "title": null}},
  "text": {"field": "txt"}
 }}
],
"resolve": {"axis": {"x": "independent", "y": "independent"}}
},
{
"width": 1, "height": 1,
"view": {"stroke": "transparent"},
"data": {"values": [{"k": 0}]},
"mark": {"type": "point", "opacity": 0},
"title": {"text": ["\u200b\u00a0\u00a0\u00a0\u00a0\u00a0\u00a0\u00a0\u00a0\u00a0\u00a0\u00a0\u00a0\u00a0\u00a0\u00a0\u00a0\u00a0The momentum distributions at different times for the systems of (a) Coulomb potential and (b) square well potential", "with 𝐹 = 0.6 a.u. (c) The minima of |ϕᵢₒₙ(𝑝 ≃ 0)|² marked by the dashed black line [see (a) and (b)] with respect to time. (d) The", "probability of the wavefront of momentum distribution as a function of time."], "orient": "bottom", "anchor": "start", "frame": "group", "fontSize": 21.3, "fontWeight": "normal", "font": "Liberation Serif, DejaVu Serif", "color": "black", "lineHeight": 20.5, "dx": -85, "offset": 44, "baseline": "top"}
}
],
"config": {
"font": "Liberation Serif, DejaVu Serif",
"view": {"stroke": "black", "strokeWidth": 2},
"axis": {"domain": false, "grid": false, "labelFont": "Liberation Serif, DejaVu Serif", "labelFontSize": 19, "labelColor": "black", "labelPadding": 17, "labelFlush": false, "labelOverlap": false, "tickColor": "black", "tickWidth": 1.6, "titleFont": "Liberation Serif, DejaVu Serif", "titleFontSize": 23, "titleFontWeight": "normal", "titleColor": "black"},
"legend": {"labelFont": "Liberation Serif, DejaVu Serif", "labelColor": "black", "symbolType": "stroke", "symbolStrokeWidth": 2.5, "symbolSize": 1225, "padding": 0, "labelOffset": 5},
"title": {"font": "Liberation Serif, DejaVu Serif", "color": "black"}
}
}
